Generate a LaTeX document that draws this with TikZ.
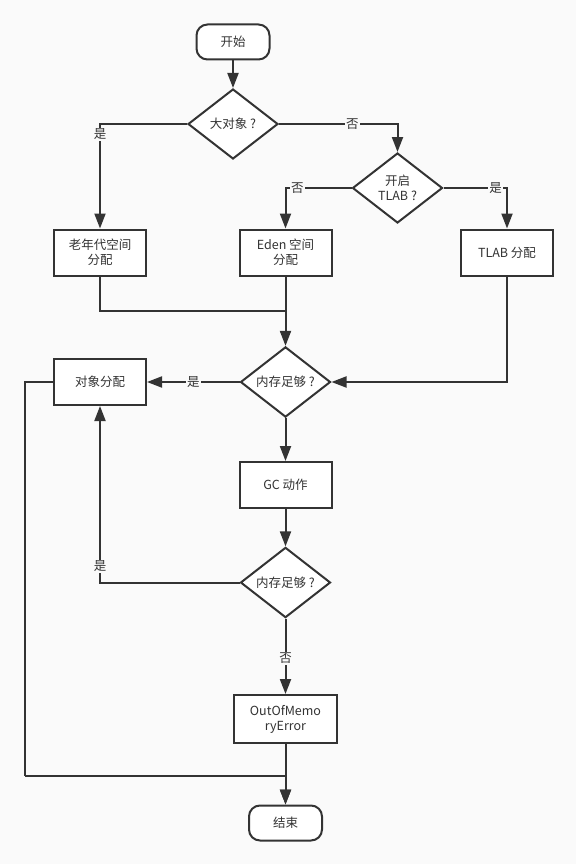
\documentclass[tikz,border=0pt]{standalone}
\usepackage{fontspec}
\setmainfont{Noto Sans CJK SC}
\usepackage{xcolor}
\usetikzlibrary{shapes.geometric,arrows.meta}
\definecolor{ink}{HTML}{333333}
\definecolor{paper}{HTML}{FAFAFA}

\begin{document}
\begin{tikzpicture}[x=1pt,y=-1pt,
  font=\fontsize{12.5}{15}\selectfont, text=ink,
  box/.style={draw=ink, line width=2pt, fill=white, align=center,
    minimum width=92pt, minimum height=46pt, inner sep=2pt},
  term/.style={box, rounded corners=11pt, minimum width=73pt, minimum height=35pt},
  ask/.style={diamond, draw=ink, line width=2pt, fill=white, align=center,
    minimum width=90pt, minimum height=70pt, inner sep=0pt},
  wire/.style={draw=ink, line width=2pt},
  arr/.style={wire, -{Triangle[length=15pt,width=11pt]}},
  lab/.style={fill=paper, inner sep=1pt}]
\useasboundingbox[fill=paper] (0,0) rectangle (576,864);
% nodes
\node[term] (start) at (233,42) {开始};
\node[ask] (big) at (233,124) {大对象 ?};
\node[ask] (tlabq) at (397.5,188) {开启\\TLAB ?};
\node[box] (old) at (100,252.5) {老年代空间\\分配};
\node[box] (eden) at (285.5,252.5) {Eden 空间\\分配};
\node[box] (tlab) at (507,252.5) {TLAB 分配};
\node[ask] (enough) at (285.5,382) {内存足够 ?};
\node[box] (alloc) at (100,382) {对象分配};
\node[box] (gc) at (285.5,485) {GC 动作};
\node[ask] (enough2) at (285.5,582.5) {内存足够 ?};
\node[box, minimum width=103pt, minimum height=48pt] (oom) at (285.5,719) {OutOfMemo\\ryError};
\node[term] (stop) at (285.5,823) {结束};
\coordinate (merge) at (285.5,311);
\coordinate (loop) at (24.6,776);
% connectors
\draw[arr] (start) -- (big);
\draw[arr] (big.west) -| node[lab, pos=0.55]{是} (old.north);
\draw[arr] (big.east) -| node[lab, pos=0.31]{否} (tlabq.north);
\draw[arr] (tlabq.west) -| node[lab, pos=0.41]{否} (eden.north);
\draw[arr] (tlabq.east) -| node[lab, pos=0.41]{是} (tlab.north);
\draw[wire] (old.south) |- (merge);
\draw[arr] (eden.south) -- (enough.north);
\draw[arr] (tlab.south) |- (enough.east);
\draw[arr] (enough.west) -- node[lab]{是} (alloc.east);
\draw[arr] (enough.south) -- (gc.north);
\draw[arr] (gc.south) -- (enough2.north);
\draw[arr] (enough2.west) -| node[lab, pos=0.546]{是} (alloc.south);
\draw[arr] (enough2.south) -- node[lab, pos=0.53]{否} (oom.north);
\draw[wire] (alloc.west) -| (loop);
\draw[arr] (loop) -| (stop.north);
\draw[arr] (oom.south) -- (stop.north);
\end{tikzpicture}
\end{document}
